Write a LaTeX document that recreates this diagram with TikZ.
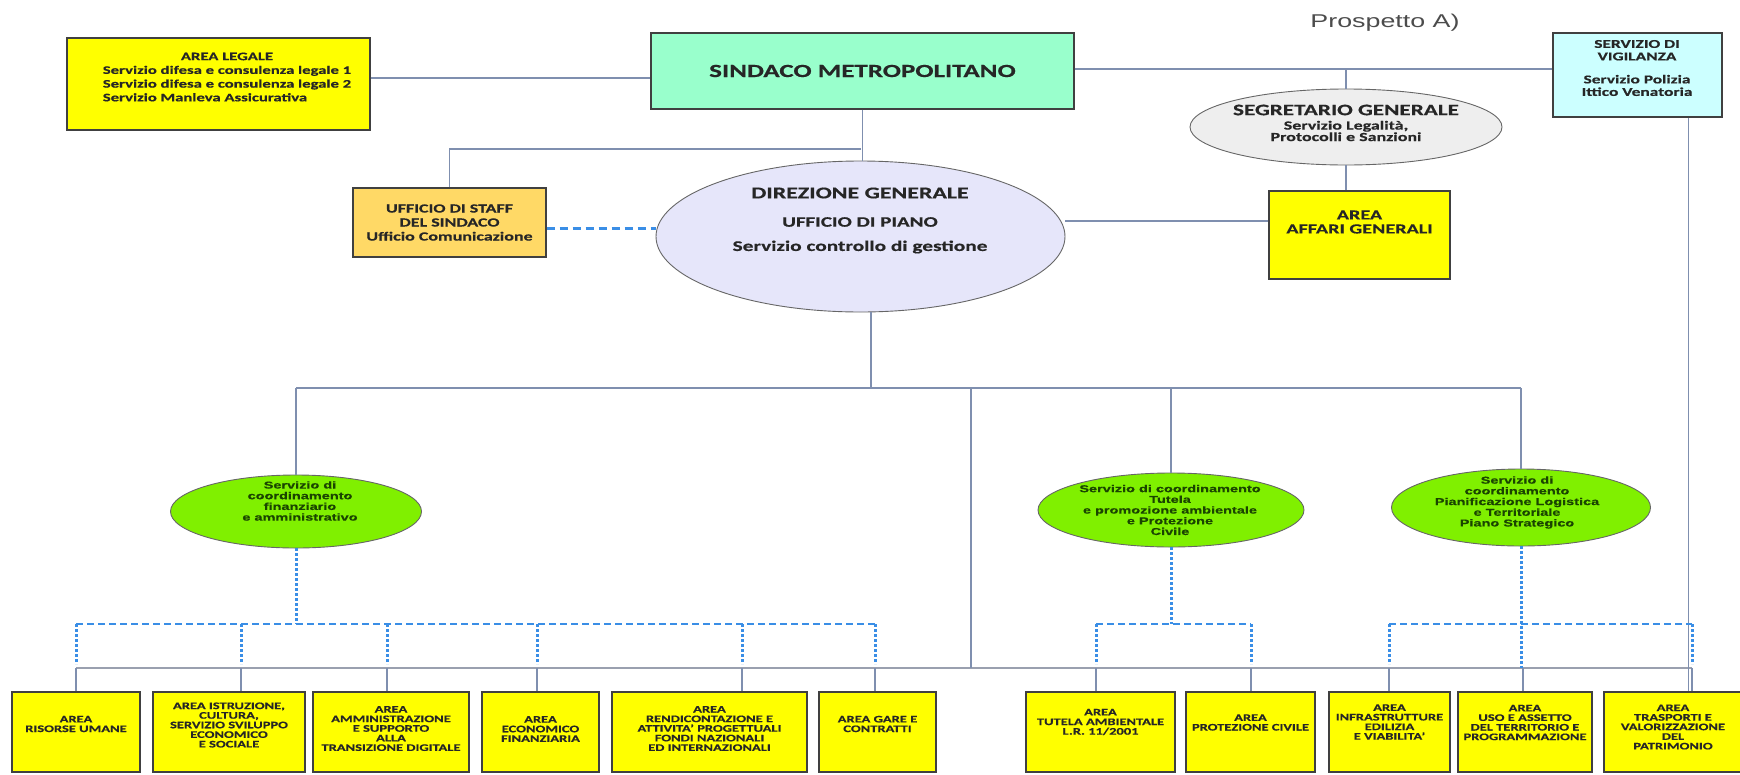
\documentclass[tikz,border=0pt]{standalone}
\usepackage{fontspec}
\setmainfont{Carlito}[FakeStretch=1.45,BoldFeatures={FakeBold=0.5}]
\newfontfamily\arialfont{Liberation Sans}[FakeStretch=1.45,BoldFeatures={FakeBold=0.5}]
\usepackage{tikz}
\usetikzlibrary{positioning}
\usetikzlibrary{shapes}
\definecolor{areayellow}{HTML}{FFFF00}
\definecolor{staffgold}{HTML}{FFD966}
\definecolor{sindacogreen}{HTML}{99FFCC}
\definecolor{direzlilac}{HTML}{E6E6FA}
\definecolor{segrgray}{HTML}{EEEEEE}
\definecolor{vigcyan}{HTML}{CCFFFF}
\definecolor{coordgreen}{HTML}{80F000}
\definecolor{coordtxt}{HTML}{1A4400}
\definecolor{linkblue}{HTML}{7F8FAF}
\definecolor{busgray}{HTML}{9AA0AF}
\definecolor{dashblue}{HTML}{3A8EE6}
\tikzstyle{box}=[rectangle,draw=black!75,line width=1.2pt,inner sep=0pt,align=center,text=black!85,font=\bfseries\fontsize{12.4}{14}\selectfont]
\tikzstyle{areabox}=[box,fill=areayellow,minimum height=80pt]
\tikzstyle{areatext}=[inner sep=0pt,align=center,text=black!85,font=\bfseries\fontsize{10}{9.6}\selectfont]
\tikzstyle{boxtext}=[inner sep=0pt,align=center,text=black!85,font=\bfseries\fontsize{11.5}{13.7}\selectfont]
\tikzstyle{oval}=[ellipse,draw=black!60,line width=0.9pt,inner sep=0pt]
\tikzstyle{coordnode}=[oval,fill=coordgreen]
\tikzstyle{coordtext}=[inner sep=0pt,align=center,text=coordtxt,font=\arialfont\bfseries\fontsize{10}{10.7}\selectfont]
\tikzstyle{edge} = [draw,linkblue,line width=1.2pt]
\tikzstyle{busline} = [draw,busgray,line width=1.5pt]
\tikzstyle{dashlink} = [draw,dashblue,line width=2.6pt,dash pattern=on 7pt off 4pt]
\tikzstyle{dotlink} = [draw,dashblue,line width=3pt,dash pattern=on 3pt off 2pt]

\begin{document}
\begin{tikzpicture}[x=1pt,y=-1pt]

  \useasboundingbox (0,0) rectangle (1740,774);

  % top level
  \node[font=\arialfont\fontsize{18.5}{20}\selectfont, text=black!70] (prospetto) at (1385,23) {Prospetto A)};

  \node[box,fill=sindacogreen,minimum width=423pt,minimum height=76pt,font=\bfseries\fontsize{18.6}{20}\selectfont] (sindaco) at (862.5,71) {SINDACO METROPOLITANO};

  \node[box,fill=areayellow,minimum width=303pt,minimum height=92pt] (legale) at (218.5,84) {};
  \node[boxtext] (legale-t) at (227,78) {\begin{tabular}{@{}l@{}}\multicolumn{1}{@{}c@{}}{AREA LEGALE}\\Servizio difesa e consulenza legale 1\\Servizio difesa e consulenza legale 2\\Servizio Manleva Assicurativa\end{tabular}};

  \node[box,fill=vigcyan,minimum width=169pt,minimum height=84pt] (vigilanza) at (1637.5,75) {};
  \node[boxtext,font=\bfseries\fontsize{12}{12.5}\selectfont] (vigilanza-t) at (1637,68) {SERVIZIO DI\\VIGILANZA\\[10.5pt]Servizio Polizia\\Ittico Venatoria};

  \node[oval,fill=segrgray,minimum width=312pt,minimum height=76pt] (segretario) at (1346,127) {};
  \node[boxtext,font=\bfseries\fontsize{16}{18}\selectfont] (segretario-t) at (1346,110) {SEGRETARIO GENERALE};
  \node[boxtext,font=\bfseries\fontsize{12.4}{11.5}\selectfont] (segretario-s) at (1346,131) {Servizio Legalità,\\Protocolli e Sanzioni};

  \node[oval,fill=direzlilac,minimum width=409pt,minimum height=151pt] (direzione) at (860.5,236.5) {};
  \node[boxtext,font=\bfseries\fontsize{16.5}{18}\selectfont] (direzione-t) at (860,193) {DIREZIONE GENERALE};
  \node[boxtext,font=\bfseries\fontsize{14.5}{16}\selectfont] (piano) at (860,222) {UFFICIO DI PIANO};
  \node[boxtext,font=\bfseries\fontsize{14.7}{16}\selectfont] (controllo) at (860,247) {Servizio controllo di gestione};

  \node[box,fill=staffgold,minimum width=193pt,minimum height=69pt] (staff) at (449.5,222.5) {UFFICIO DI STAFF\\DEL SINDACO\\Ufficio Comunicazione};

  \node[box,fill=areayellow,minimum width=181pt,minimum height=88pt] (affari) at (1359.5,235) {};
  \node[boxtext,font=\bfseries\fontsize{13.9}{14}\selectfont] (affari-t) at (1359.5,222) {AREA\\AFFARI GENERALI};

  % coordinamenti
  \node[coordnode,minimum width=251pt,minimum height=73pt] (coordfin) at (296,511.5) {};
  \node[coordtext] (coordfin-t) at (300,501) {Servizio di\\coordinamento\\finanziario\\e amministrativo};
  \node[coordnode,minimum width=266pt,minimum height=74pt] (coordamb) at (1171,510) {};
  \node[coordtext] (coordamb-t) at (1170,510) {Servizio di coordinamento\\Tutela\\e promozione ambientale\\e Protezione\\Civile};
  \node[coordnode,minimum width=259pt,minimum height=77pt] (coordpian) at (1521,507.5) {};
  \node[coordtext] (coordpian-t) at (1517,502.5) {Servizio di\\coordinamento\\Pianificazione Logistica\\e Territoriale\\Piano Strategico};

  % top connectors
  \coordinate (toprail) at ([yshift=2pt]sindaco.east);
  \coordinate (stafftap) at (861,149);
  \coordinate (dirbus) at (871,388);
  \coordinate (midbus) at (971,388);
  \path[edge] ([yshift=6pt]legale.east) -- ([yshift=6pt]legale.east -| sindaco.west);
  \path[edge] (toprail) -- (toprail -| vigilanza.west);
  \path[edge] (segretario.north) -- (segretario.north |- toprail);
  \path[edge] (segretario.south) -- (segretario.south |- affari.north);
  \path[edge] (sindaco.south) -- (sindaco.south |- direzione.north);
  \path[edge] (staff.north) |- (stafftap);
  \path[edge] ([yshift=14pt]affari.west) -- ([yshift=14pt]affari.west -| direzione.east);
  \path[dashlink,line width=3pt,dash pattern=on 8pt off 5pt] ([yshift=-6pt]staff.east) -- ([yshift=-6pt]staff.east -| direzione.west);
  \path[edge] (dirbus) -- (dirbus |- direzione.south);
  \path[edge] (coordfin.north |- dirbus) -- (coordpian.north |- dirbus);
  \foreach \dest in {coordfin,coordamb,coordpian}
         \path[edge] (\dest.north |- dirbus) -- (\dest.north);

  % aree
  \foreach \x/\w/\ty/\cx/\name/\txt in {
     76/128/724/76/risorse/{AREA\\RISORSE UMANE},
     229/152/725/241/istruzione/{AREA ISTRUZIONE,\\CULTURA,\\SERVIZIO SVILUPPO\\ECONOMICO\\E SOCIALE},
     391/156/728.5/387/amministrazione/{AREA\\AMMINISTRAZIONE\\E SUPPORTO\\ALLA\\TRANSIZIONE DIGITALE},
     540.5/117/729/537/economico/{AREA\\ECONOMICO\\FINANZIARIA},
     709.5/195/728.5/742/rendicontazione/{AREA\\RENDICONTAZIONE E\\ATTIVITA' PROGETTUALI\\FONDI NAZIONALI\\ED INTERNAZIONALI},
     877.5/117/724/875/gare/{AREA GARE E\\CONTRATTI},
     1100.5/149/722/1096/tutela/{AREA\\TUTELA AMBIENTALE\\L.R. 11/2001},
     1250.5/129/722.5/1251/protezione/{AREA\\PROTEZIONE CIVILE},
     1389.5/121/722/1389/infrastrutture/{AREA\\INFRASTRUTTURE\\EDILIZIA\\E VIABILITA'},
     1525/134/722.5/1523/uso/{AREA\\USO E ASSETTO\\DEL TERRITORIO E\\PROGRAMMAZIONE},
     1673/138/727/1692/trasporti/{AREA\\TRASPORTI E\\VALORIZZAZIONE\\DEL\\PATRIMONIO}}
  {
     \node[areabox,minimum width=\w pt] (\name) at (\x,732) {};
     \node[areatext] (\name-t) at (\x,\ty) {\txt};
     \coordinate (\name-bus) at (\cx,668);
  }

  % bottom connectors
  \coordinate (rail) at (0,624);
  \path[busline] (risorse-bus) -- (trasporti-bus);
  \foreach \name in {risorse,istruzione,amministrazione,economico,rendicontazione,gare,tutela,protezione,infrastrutture,uso,trasporti}
         \path[edge] (\name-bus) -- (\name-bus |- \name.north);
  \path[edge] (midbus) -- (midbus |- risorse-bus);
  \path[edge] ([xshift=51pt]vigilanza.south) -- ([xshift=51pt]vigilanza.south |- trasporti.north);

  \path[dotlink] (coordfin.south) -- (coordfin.south |- rail);
  \path[dotlink] (coordamb.south) -- (coordamb.south |- rail);
  \path[dotlink] (coordpian.south) -- (coordpian.south |- uso-bus);
  \path[dashlink] (risorse-bus |- rail) -- (gare-bus |- rail);
  \path[dashlink] (tutela-bus |- rail) -- (protezione-bus |- rail);
  \path[dashlink] (infrastrutture-bus |- rail) -- (trasporti-bus |- rail);
  \foreach \name in {risorse,istruzione,amministrazione,economico,rendicontazione,gare,tutela,protezione,infrastrutture,trasporti}
         \path[dotlink] (\name-bus |- rail) -- ([yshift=4pt]\name-bus);

\end{tikzpicture}
\end{document}
